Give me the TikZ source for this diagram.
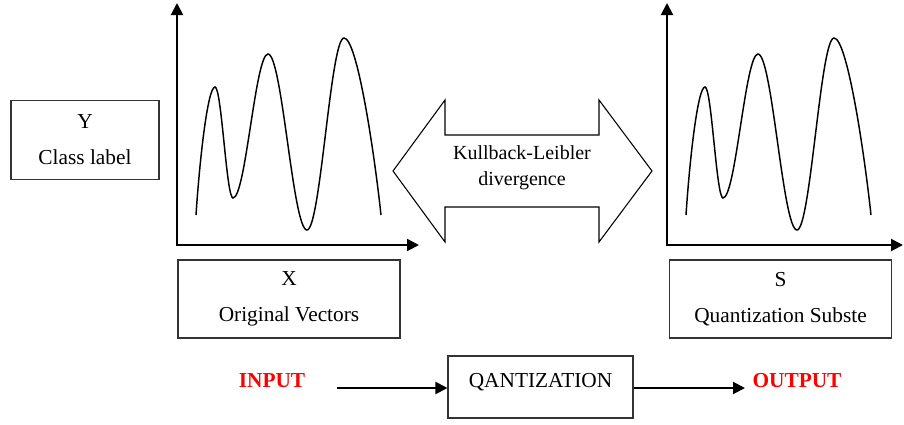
\documentclass[tikz,border=0pt]{standalone}
\usepackage{fontspec}
\setmainfont{Liberation Serif}
\usetikzlibrary{arrows.meta}

\begin{document}
\begin{tikzpicture}[x=0.75pt, y=-0.75pt, >={Triangle[length=9pt,width=9pt]},
    box/.style={draw=black!80, line width=0.8pt, align=center, inner sep=0pt,
      font=\fontsize{16}{27}\selectfont},
    axis/.style={<->, line width=1.5pt},
    wave/.style={line width=1.1pt},
    io/.style={text=red, font=\bfseries\fontsize{16}{19}\selectfont},
    flow/.style={->, line width=1.5pt}]
  \useasboundingbox (0,0) rectangle (904,425);
  \coordinate (lorig) at (177,245);
  \coordinate (rorig) at (667,245);
  \foreach \o/\len in {lorig/242, rorig/236}{
    \draw[axis] ([shift={(0,-242)}]\o) -- (\o) -- ([shift={(\len,0)}]\o);
    \draw[wave, shift={(\o)}] (19,-30) .. controls (23,-90) and (31,-158) .. (38,-158)
      .. controls (44.6,-158) and (49.4,-47) .. (56,-47)
      .. controls (68.7,-47) and (78.3,-191) .. (91,-191)
      .. controls (105.2,-191) and (115.8,-15) .. (130,-15)
      .. controls (143.5,-15) and (153.5,-207) .. (167,-207)
      .. controls (180,-207) and (197,-95) .. (204,-30);
  }
  \node[box, minimum width=111pt, minimum height=59pt] (ylab) at (85,140) {Y\\Class label};
  \node[box, minimum width=166.5pt, minimum height=58.5pt] (xlab) at (289,299) {X\\Original Vectors};
  \node[box, minimum width=166pt, minimum height=58.5pt] (slab) at (780.5,299) {S\\Quantization Subste};
  % double arrow between the two distributions
  \draw[line width=0.8pt, line join=miter] (393,171) -- (445,100) -- (445,135) -- (599,135)
    -- (599,100) -- (652,171) -- (599,242) -- (599,207) -- (445,207) -- (445,242) -- cycle;
  \node[align=center, font=\fontsize{15}{19.5}\selectfont] (kl) at (522,168) {Kullback-Leibler\\divergence};
  % bottom row
  \node[io] (input) at (272,381) {INPUT};
  \node[io] (output) at (797,381) {OUTPUT};
  \node[box, minimum width=138.75pt, text height=23.75pt, text depth=22.75pt] (quant) at (540.5,387) {QANTIZATION};
  \coordinate (instart) at (337,388);
  \coordinate (outend) at (745,388);
  \draw[flow] (instart) -- (instart -| quant.west);
  \draw[flow] (quant.east |- outend) -- (outend);
\end{tikzpicture}
\end{document}
